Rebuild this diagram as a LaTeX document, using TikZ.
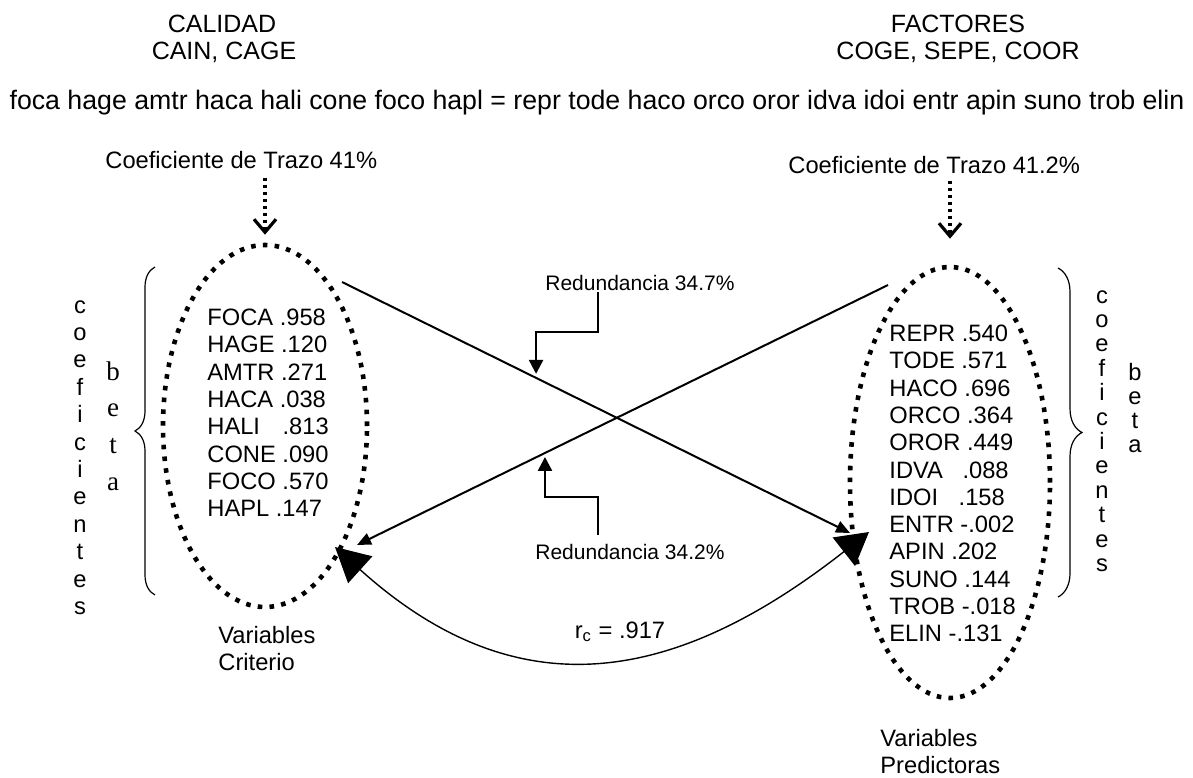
\documentclass[tikz,border=0pt]{standalone}
\usepackage{fontspec}
\setmainfont{Liberation Sans}
\newfontfamily\letratimes{Liberation Serif}
\usetikzlibrary{arrows.meta, shapes.geometric, decorations.pathreplacing}

\begin{document}
\begin{tikzpicture}[x=0.5pt, y=-0.5pt,
    texto/.style={inner sep=0pt, anchor=base west, font=\fontsize{11.85}{14}\selectfont},
    titulo/.style={inner sep=0pt, anchor=base, font=\fontsize{12.5}{15}\selectfont},
    letra/.style={inner sep=0pt, anchor=base, font=\fontsize{11.85}{14}\selectfont},
    grupo/.style={draw, ellipse, line width=2.3pt, dash pattern=on 2.3pt off 3.6pt},
    traza/.style={line width=1.6pt, dash pattern=on 1.6pt off 1.9pt, -{Straight Barb[length=6.5pt,width=11pt,line width=1.6pt]}},
    efecto/.style={line width=1pt, -{Triangle[length=7pt,width=6pt]}},
    codo/.style={line width=1.2pt, shorten >=2pt, -{Triangle[length=7pt,width=7pt]}},
    correl/.style={line width=0.7pt, {Triangle[length=17pt,width=18pt]}-{Triangle[length=16pt,width=18pt]}},
    llave/.style={decorate, decoration={brace, amplitude=#1}, line width=0.6pt}]
  \useasboundingbox (0,0) rectangle (1193,777);

  % titulos
  \node[titulo] (cal1) at (222,32) {CALIDAD};
  \node[titulo] (cal2) at (224,59) {CAIN, CAGE};
  \node[titulo] (fac1) at (958,32) {FACTORES};
  \node[titulo] (fac2) at (958,59) {COGE, SEPE, COOR};
  \node[inner sep=0pt, anchor=base, font=\fontsize{13.35}{16}\selectfont] (ecuacion) at (597,109)
    {foca hage amtr haca hali cone foco hapl = repr tode haco orco oror idva idoi entr apin suno trob elin};

  \node[texto] (traz1) at (105,168.5) {Coeficiente de Trazo 41\%};
  \node[texto] (traz2) at (788,173.5) {Coeficiente de Trazo 41.2\%};

  % conjuntos de variables
  \node[grupo, minimum width=102pt, minimum height=181pt] (crit) at (265,426) {};
  \node[grupo, minimum width=100pt, minimum height=215.5pt] (pred) at (950,482.5) {};

  \draw[traza, shorten <=4.25pt, shorten >=4pt] (traz1.south -| crit.north) -- (crit.north);
  \draw[traza, shorten <=3.25pt, shorten >=13pt] (traz2.south -| pred.north) -- (pred.north);

  \foreach \v [count=\i from 0] in {FOCA .958, HAGE .120, AMTR .271, HACA .038,
      {HALI\hspace{8pt} .813}, CONE .090, FOCO .570, HAPL .147}
    \node[texto] (critv\i) at (207,325.5+27.3*\i) {\v};
  \foreach \v [count=\i from 0] in {REPR .540, TODE .571, HACO .696, ORCO .364, OROR .449,
      {IDVA\hspace{6.5pt} .088}, {IDOI\hspace{7pt} .158}, ENTR -.002, APIN .202, SUNO .144,
      TROB -.018, ELIN -.131}
    \node[texto] (predv\i) at (889,341.5+27.3*\i) {\v};

  % coeficientes beta
  \foreach \l [count=\i from 0] in {c,o,e,f,i,c,i,e,n,t,e,s}
    \node[letra] (coefL\i) at (80,313+27.4*\i) {\l};
  \foreach \l [count=\i from 0] in {b,e,t,a}
    \node[letra, font=\letratimes\fontsize{13.5}{16}\selectfont] (betaL\i) at (113,380+36.7*\i) {\l};
  \foreach \l [count=\i from 0] in {c,o,e,f,i,c,i,e,n,t,e,s}
    \node[letra] (coefR\i) at (1102,303+24.4*\i) {\l};
  \foreach \l [count=\i from 0] in {b,e,t,a}
    \node[letra] (betaR\i) at (1135,380+24.3*\i) {\l};

  \coordinate (llaveLa) at (155,595);
  \coordinate (llaveLb) at (155,267);
  \coordinate (llaveRa) at (1058,268);
  \coordinate (llaveRb) at (1058,597);
  \draw[llave=10pt] (llaveLa) -- (llaveLb);
  \draw[llave=12pt] (llaveRa) -- (llaveRb);

  % redundancias
  \coordinate (ini1) at (342,282);
  \coordinate (fin1) at (850,533);
  \coordinate (ini2) at (888,285);
  \coordinate (fin2) at (357,545);
  \draw[efecto] (ini1) -- coordinate[pos=0.382] (toque1) (fin1);
  \draw[efecto] (ini2) -- coordinate[pos=0.646] (toque2) (fin2);

  \node[texto, font=\fontsize{10.5}{12}\selectfont] (red1) at (545,290.5) {Redundancia 34.7\%};
  \node[texto, font=\fontsize{10.5}{12}\selectfont] (red2) at (535,559.5) {Redundancia 34.2\%};
  \draw[codo] (red1.base west) ++(53,1.5) -- ++(0,40) -| (toque1);
  \draw[codo] (red2.base west) ++(63,-24.5) -- ++(0,-38) -| (toque2);

  % correlacion canonica
  \coordinate (puntaL) at (335,547);
  \coordinate (puntaR) at (869,532);
  \draw[correl] (puntaL) .. controls (518,712) and (675,684) .. (puntaR);
  \node[letra] (rc) at (620,638) {r\textsubscript{c} = .917};

  \node[texto] (critA) at (218,643.5) {Variables};
  \node[texto] (critB) at (218,670.5) {Criterio};
  \node[texto] (predA) at (880,746.5) {Variables};
  \node[texto] (predB) at (880,773.5) {Predictoras};
\end{tikzpicture}
\end{document}
